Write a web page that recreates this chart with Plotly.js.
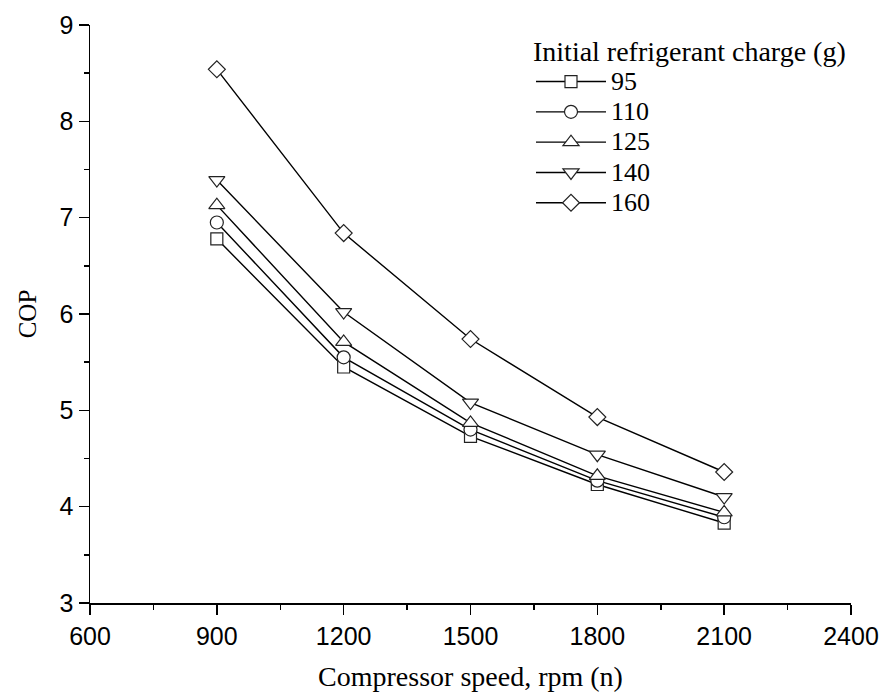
<!DOCTYPE html>
<html>
<head>
<meta charset="utf-8">
<script src="https://cdn.plot.ly/plotly-3.0.1.min.js"></script>
<style>html,body{margin:0;padding:0;background:#fff;}#chart{width:883px;height:696px;}</style>
</head>
<body>
<div id="chart"></div>
<script>
const speeds = [900, 1200, 1500, 1800, 2100];
const charges = ["95", "110", "125", "140", "160"];
const cop95  = [6.78, 5.45, 4.73, 4.23, 3.83];
const cop110 = [6.95, 5.55, 4.80, 4.27, 3.89];
const cop125 = [7.13, 5.71, 4.87, 4.32, 3.94];
const cop140 = [7.39, 6.02, 5.08, 4.54, 4.10];
const cop160 = [8.54, 6.84, 5.74, 4.93, 4.36];
const xTicks = [600, 900, 1200, 1500, 1800, 2100, 2400];
const yTicks = [3, 4, 5, 6, 7, 8, 9];

const series = [cop95, cop110, cop125, cop140, cop160];
const symbols = ["square", "circle", "triangle-up", "triangle-down", "diamond"];
const sizes = [12, 13, 14, 14, 13];

const traces = series.map((vals, i) => ({
  x: speeds,
  y: vals,
  name: '<span style="font-size:26px">' + charges[i] + '</span>',
  type: "scatter",
  mode: "lines+markers",
  line: {color: "#000", width: 1.4},
  marker: {symbol: symbols[i], size: sizes[i], color: "#fff",
           line: {color: "#222", width: 1.2}},
  cliponaxis: false
}));

const serif = "Liberation Serif, Times New Roman, serif";
const sans = "Liberation Sans, Arial, sans-serif";

const layout = {
  width: 883, height: 696,
  margin: {l: 90, r: 32, t: 25, b: 93},
  paper_bgcolor: "#fff", plot_bgcolor: "#fff",
  showlegend: true,
  legend: {
    x: 0.5795, y: 1.0, xanchor: "left", yanchor: "top",
    bgcolor: "rgba(0,0,0,0)",
    font: {family: serif, size: 21, color: "#000"},
    title: {text: "Initial refrigerant charge (g)", font: {family: serif, size: 28, color: "#000"}},
    itemwidth: 70,
    tracegroupgap: 0
  },
  xaxis: {
    range: [600, 2400], tickvals: xTicks, ticktext: xTicks.map(String),
    showgrid: false, zeroline: false,
    showline: true, linecolor: "#000", linewidth: 1.5,
    ticks: "outside", ticklen: 10, tickwidth: 1.5, tickcolor: "#000",
    minor: {dtick: 150, ticks: "outside", ticklen: 5, tickwidth: 1.5, tickcolor: "#000", showgrid: false},
    tickfont: {family: sans, size: 25, color: "#000"},
    title: {text: "Compressor speed, rpm (n)", font: {family: serif, size: 28, color: "#000"}, standoff: 18}
  },
  yaxis: {
    range: [3, 9], tickvals: yTicks, ticktext: yTicks.map(String),
    showgrid: false, zeroline: false,
    showline: true, linecolor: "#000", linewidth: 1.5,
    ticks: "outside", ticklen: 10, tickwidth: 1.5, tickcolor: "#000",
    minor: {dtick: 0.5, ticks: "outside", ticklen: 5, tickwidth: 1.5, tickcolor: "#000", showgrid: false},
    tickfont: {family: sans, size: 25, color: "#000"},
    title: {text: "COP", font: {family: serif, size: 25, color: "#000"}, standoff: 16}
  },
  xaxis2: {
    overlaying: "x", side: "top", anchor: "y", matches: "x",
    range: [600, 2400], dtick: 150, showticklabels: false,
    showgrid: false, zeroline: false,
    showline: true, linecolor: "#000", linewidth: 1.5,
    ticks: "inside", ticklen: 4, tickwidth: 1, tickcolor: "#000"
  },
  yaxis2: {
    overlaying: "y", side: "right", anchor: "x",
    range: [3, 9], dtick: 0.5, showticklabels: false,
    showgrid: false, zeroline: false,
    showline: true, linecolor: "#000", linewidth: 1.5,
    ticks: "inside", ticklen: 4, tickwidth: 1, tickcolor: "#000"
  }
};

Plotly.newPlot("chart", traces, layout, {displayModeBar: false, staticPlot: true});
</script>
</body>
</html>
